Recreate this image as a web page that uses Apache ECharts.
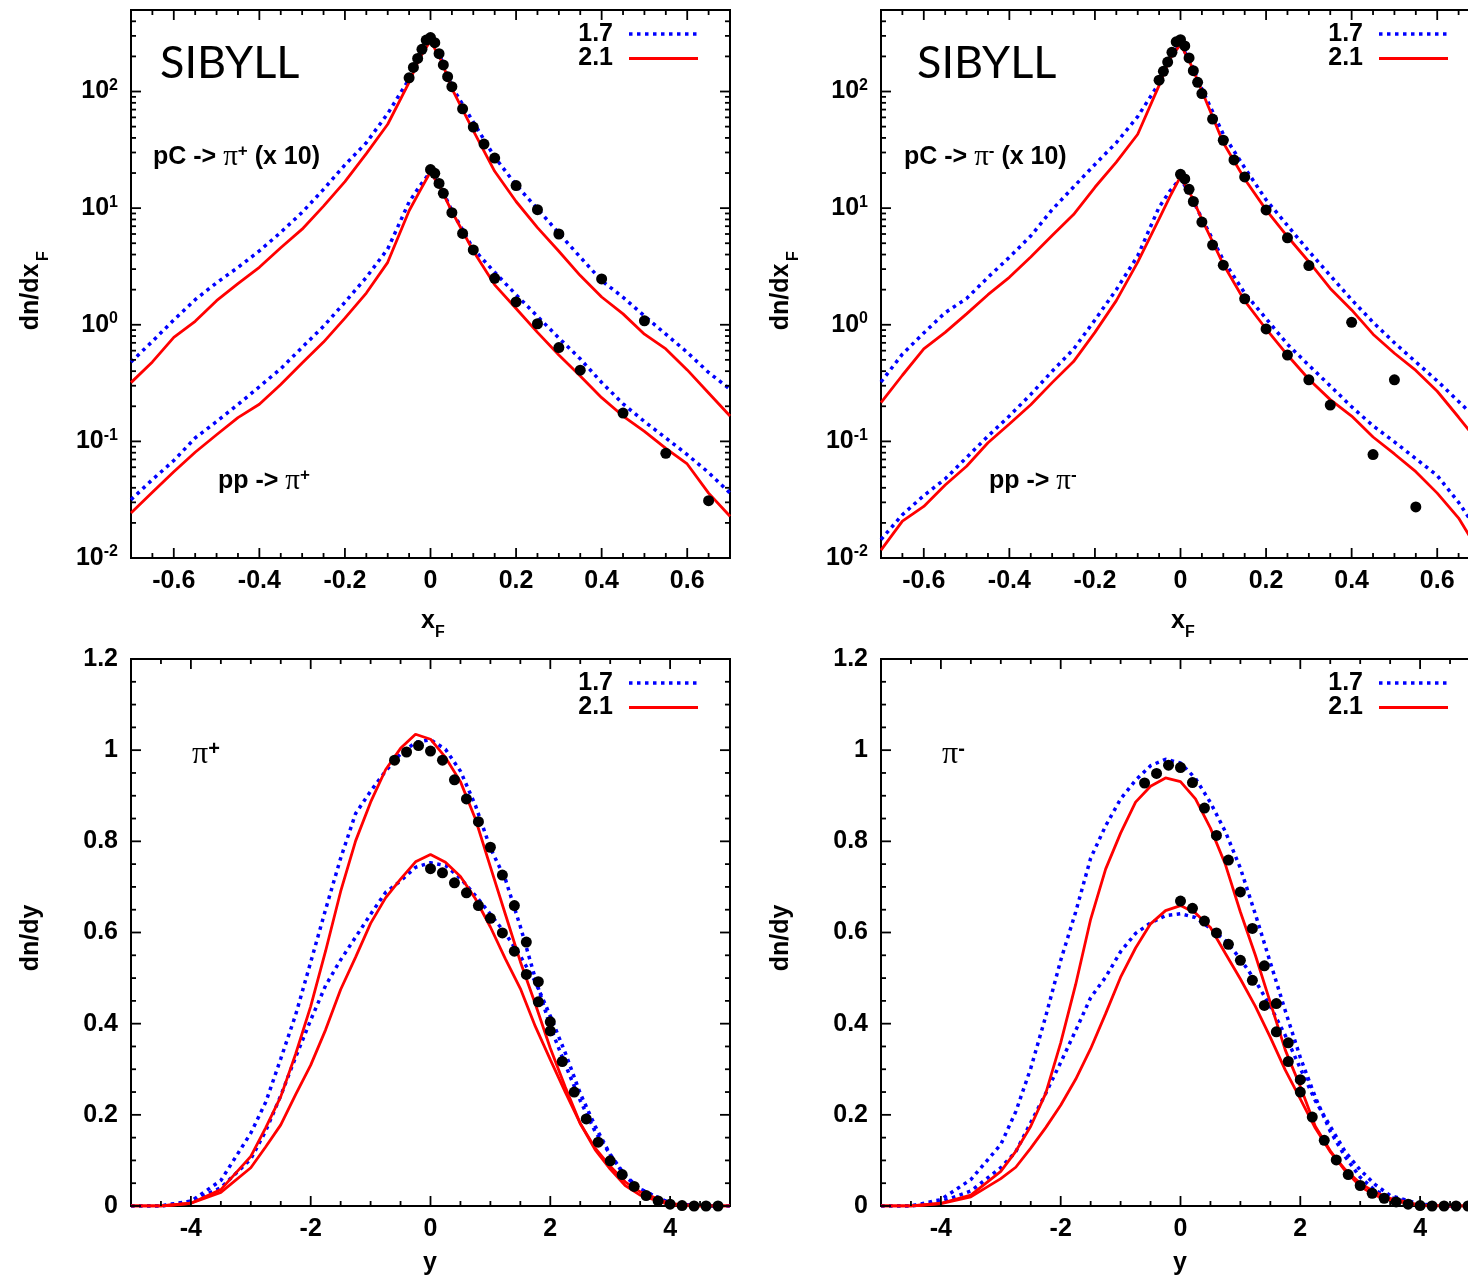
<!DOCTYPE html>
<html>
<head>
<meta charset="utf-8">
<script src="https://cdn.jsdelivr.net/npm/echarts@6/dist/echarts.min.js"></script>
<style>
  html, body { margin: 0; padding: 0; background: #fff; }
  #chart { width: 1468px; height: 1286px; }
</style>
</head>
<body>
<div id="chart"></div>
<script>
// ---- Feynman-x spectra: SIBYLL 1.7 / 2.1 model curves (sampled in x_F) ----
const xfGrid = [-0.7,-0.65,-0.6,-0.55,-0.5,-0.45,-0.4,-0.35,-0.3,-0.25,-0.2,-0.15,-0.1,-0.05,-0.025,0,0.025,0.05,0.1,0.15,0.2,0.25,0.3,0.35,0.4,0.45,0.5,0.55,0.6,0.65,0.7];

// pi+ : pC (x 10) and pp
const piPlusPC17 = [0.48,0.72,1.1,1.64,2.29,3.1,4.3,6.2,9.2,14.5,23.5,36.4,64.7,128,200,278,190,110,54.8,27.4,15.8,9.86,6.1,3.8,2.39,1.72,1.19,0.83,0.58,0.39,0.28];
const piPlusPC21 = [0.319,0.48,0.78,1.07,1.61,2.25,3.11,4.58,6.6,10.4,16.9,29.3,52.4,120,195,272,185,106,46.2,20.7,11.4,6.8,4.27,2.64,1.73,1.24,0.83,0.62,0.41,0.26,0.165];
const piPlusPP17 = [0.0316,0.047,0.0685,0.107,0.148,0.207,0.294,0.42,0.64,0.97,1.56,2.55,4.47,11.3,15.5,20.5,15,9.5,4.47,2.82,1.81,1.18,0.77,0.51,0.32,0.21,0.148,0.107,0.077,0.054,0.036];
const piPlusPP21 = [0.0243,0.0366,0.0548,0.0807,0.114,0.16,0.208,0.308,0.47,0.71,1.14,1.87,3.43,9.5,14,20.5,14.5,9.35,4.29,2.2,1.38,0.86,0.55,0.364,0.237,0.165,0.122,0.087,0.064,0.036,0.0228];

// pi- : pC (x 10) and pp
const piMinusPC17 = [0.323,0.56,0.85,1.27,1.68,2.55,3.79,5.78,9.7,15.2,23.7,36.4,61,118,195,258,172,105,43,22.2,11.8,7.1,4.27,2.64,1.64,1.05,0.70,0.48,0.33,0.22,0.145];
const piMinusPC21 = [0.215,0.369,0.62,0.86,1.24,1.81,2.55,3.81,5.82,8.8,15.1,24.8,43,113,190,255,168,101,36.4,17.8,9.66,5.71,3.47,2.05,1.34,0.83,0.57,0.406,0.269,0.161,0.095];
const piMinusPP17 = [0.0144,0.0235,0.0343,0.0477,0.0727,0.111,0.165,0.253,0.399,0.617,1.1,2.0,3.9,10.2,14,18,12.5,8.15,3.59,1.87,1.13,0.68,0.449,0.299,0.198,0.136,0.099,0.071,0.051,0.03,0.016];
const piMinusPP21 = [0.0117,0.0207,0.0277,0.0423,0.0612,0.0973,0.141,0.206,0.319,0.483,0.86,1.61,3.44,8.1,12.5,18.6,12.8,8.03,3.3,1.6,0.92,0.55,0.341,0.228,0.165,0.109,0.078,0.055,0.036,0.022,0.011];

// Measured x_F points
const xfDataPC = [-0.05,-0.04,-0.03,-0.02,-0.01,0,0.01,0.02,0.03,0.04,0.05,0.075,0.1,0.125,0.15,0.2,0.25,0.3,0.4,0.5];
const piPlusPCData  = [131,161,192,230,276,290,262,211,169,134,110,71,49.6,35.4,26.9,15.6,9.7,6.0,2.47,1.08];
const piMinusPCData = [125,149,179,217,267,278,246,194,151,120,96,58,38.2,25.9,18.5,9.66,5.56,3.22,1.05,0.337];
const xfDataPPPlus  = [0,0.01,0.02,0.03,0.05,0.075,0.1,0.15,0.2,0.25,0.3,0.35,0.45,0.55,0.65];
const piPlusPPData  = [21.4,19.9,16.3,13.4,9.15,6.07,4.38,2.50,1.57,1.02,0.637,0.408,0.175,0.079,0.031];
const xfDataPPMinus = [0,0.01,0.02,0.03,0.05,0.075,0.1,0.15,0.2,0.25,0.3,0.35,0.45,0.55];
const piMinusPPData = [19.5,17.8,14.5,11.4,7.6,4.82,3.24,1.67,0.92,0.55,0.337,0.205,0.077,0.0274];

// ---- Rapidity spectra ----
const yGrid = [-5,-4.5,-4,-3.5,-3,-2.75,-2.5,-2.25,-2,-1.75,-1.5,-1.25,-1,-0.75,-0.5,-0.25,0,0.25,0.5,0.75,1,1.25,1.5,1.75,2,2.25,2.5,2.75,3,3.25,3.5,4,4.5,5];

const piPlusUpper17 = [0,0,0.010,0.056,0.160,0.228,0.323,0.42,0.535,0.651,0.763,0.861,0.910,0.954,0.992,1.017,1.023,1.002,0.954,0.879,0.785,0.717,0.613,0.499,0.393,0.310,0.231,0.163,0.113,0.067,0.037,0.006,0,0];
const piPlusUpper21 = [0,0,0.006,0.036,0.109,0.172,0.240,0.334,0.438,0.560,0.690,0.801,0.886,0.957,1.004,1.035,1.024,0.984,0.931,0.849,0.744,0.640,0.536,0.443,0.346,0.261,0.181,0.123,0.081,0.045,0.024,0.0024,0,0];
const piPlusLower17 = [0,0,0.011,0.040,0.103,0.165,0.242,0.327,0.408,0.484,0.540,0.590,0.640,0.688,0.713,0.743,0.753,0.747,0.719,0.681,0.640,0.598,0.548,0.492,0.417,0.336,0.247,0.175,0.113,0.065,0.037,0.006,0,0];
const piPlusLower21 = [0,0,0.006,0.030,0.084,0.130,0.178,0.245,0.309,0.387,0.475,0.546,0.620,0.676,0.717,0.755,0.771,0.754,0.723,0.674,0.612,0.542,0.477,0.394,0.321,0.250,0.181,0.127,0.087,0.053,0.031,0.005,0,0];

const piMinusUpper17 = [0,0,0.014,0.058,0.135,0.207,0.302,0.416,0.539,0.645,0.763,0.834,0.893,0.934,0.966,0.980,0.972,0.938,0.885,0.821,0.741,0.640,0.534,0.428,0.326,0.239,0.164,0.108,0.063,0.034,0.019,0.002,0,0];
const piMinusUpper21 = [0,0,0.006,0.024,0.076,0.120,0.175,0.247,0.358,0.486,0.629,0.739,0.818,0.886,0.921,0.939,0.931,0.893,0.829,0.749,0.645,0.550,0.446,0.342,0.262,0.175,0.121,0.077,0.043,0.023,0.013,0.001,0,0];
const piMinusLower17 = [0,0,0.009,0.033,0.084,0.119,0.183,0.247,0.315,0.385,0.457,0.502,0.558,0.598,0.621,0.637,0.641,0.633,0.609,0.582,0.542,0.494,0.438,0.374,0.302,0.231,0.175,0.119,0.079,0.047,0.023,0.004,0,0];
const piMinusLower21 = [0,0,0.005,0.020,0.060,0.085,0.127,0.172,0.221,0.278,0.345,0.422,0.502,0.566,0.619,0.648,0.659,0.643,0.611,0.554,0.498,0.438,0.370,0.298,0.235,0.171,0.119,0.080,0.050,0.030,0.017,0.002,0,0];

const yDataFull = [-0.6,-0.4,-0.2,0,0.2,0.4,0.6,0.8,1.0,1.2,1.4,1.6,1.8,2.0,2.2,2.4,2.6,2.8,3.0,3.2,3.4,3.6,3.8,4.0,4.2,4.4,4.6,4.8];
const yDataHalf = [0,0.2,0.4,0.6,0.8,1.0,1.2,1.4,1.6,1.8,2.0];
const piPlusUpperData  = [0.978,0.996,1.010,0.998,0.978,0.935,0.893,0.843,0.787,0.726,0.659,0.579,0.492,0.404,0.317,0.250,0.191,0.140,0.099,0.069,0.043,0.023,0.011,0.004,0.001,0,0,0];
const piPlusLowerData  = [0.740,0.731,0.709,0.687,0.659,0.631,0.599,0.559,0.508,0.448,0.384];
const piMinusUpperData = [0.928,0.949,0.967,0.962,0.929,0.873,0.813,0.759,0.689,0.609,0.527,0.444,0.358,0.277,0.195,0.144,0.101,0.069,0.045,0.028,0.017,0.009,0.004,0.001,0,0,0,0];
const piMinusLowerData = [0.669,0.653,0.625,0.599,0.574,0.539,0.495,0.440,0.382,0.317,0.250];

// Tick labels
const xfTickValues = [-0.6,-0.4,-0.2,0,0.2,0.4,0.6];
const rapTickValues = [-4,-2,0,2,4];
const logTickValues = [0.01,0.1,1,10,100];
const linTickValues = [0,0.2,0.4,0.6,0.8,1,1.2];

// ---------------------------------------------------------------------------
const FONT = '"Liberation Sans", Arial, Helvetica, sans-serif';
const SERIF = '"Liberation Serif", "DejaVu Serif", serif';
const BLUE = '#0000ff', RED = '#ff0000';

const pairs = (xs, ys) => xs.map((x, i) => [x, ys[i]]);
const near = (a, b) => Math.abs(a - b) < 1e-6;
function range(a, b, step) {
  const out = [];
  const n = Math.round((b - a) / step);
  for (let i = 0; i <= n; i++) out.push(+(a + i * step).toFixed(6));
  return out;
}

const panels = [
  { left: 131, top: 10,  width: 599, height: 548 },
  { left: 881, top: 10,  width: 599, height: 548 },
  { left: 131, top: 659, width: 599, height: 547 },
  { left: 881, top: 659, width: 599, height: 547 }
];
const X_RANGE = [[-0.7, 0.7], [-0.7, 0.7], [-5, 5], [-5, 5]];
const Y_RANGE = [[0.01, 500], [0.01, 500], [0, 1.2], [0, 1.2]];

// minor tick positions
const xfMinor = range(-0.65, 0.65, 0.05).filter(v => !xfTickValues.some(m => near(m, v)));
const rapMinor = range(-4.5, 4.5, 0.5).filter(v => !rapTickValues.some(m => near(m, v)));
const logMinor = [];
for (let e = -2; e <= 2; e++) for (let k = 2; k <= 9; k++) { const v = k * Math.pow(10, e); if (v < 500) logMinor.push(+v.toPrecision(3)); }
const linMinor = range(0.05, 1.15, 0.05).filter(v => !linTickValues.some(m => near(m, v)));

const labelBase = { fontFamily: FONT, fontWeight: 'bold', fontSize: 25, color: '#000' };
const hiddenLine = () => ({ show: false, onZero: false });

const grid = panels.map(p => Object.assign({
  show: true, borderColor: '#000', borderWidth: 2, backgroundColor: 'transparent',
  outerBoundsMode: 'none', containLabel: false
}, p));

const xAxis = panels.map((p, g) => {
  const top = g < 2;
  const vals = top ? xfTickValues : rapTickValues;
  return {
    gridIndex: g, type: 'value', position: 'bottom',
    min: X_RANGE[g][0], max: X_RANGE[g][1],
    axisLine: hiddenLine(), axisTick: { show: false }, splitLine: { show: false },
    axisLabel: Object.assign({}, labelBase, { margin: 11, customValues: vals,
      formatter: v => vals.some(m => near(m, v)) ? String(+v.toFixed(6)) : '' })
  };
});

const yAxis = panels.map((p, g) => {
  if (g < 2) {
    return {
      gridIndex: g, type: 'log', logBase: 10, min: Y_RANGE[g][0], max: Y_RANGE[g][1], position: 'left',
      axisLine: hiddenLine(), axisTick: { show: false }, splitLine: { show: false },
      axisLabel: {
        margin: 13, customValues: logTickValues,
        formatter: v => { const e = Math.log10(v), r = Math.round(e); return Math.abs(e - r) > 1e-6 ? '' : '{b|10}{s|' + r + '}'; },
        rich: {
          b: { fontFamily: FONT, fontWeight: 'bold', fontSize: 25, lineHeight: 28, color: '#000' },
          s: { fontFamily: FONT, fontWeight: 'bold', fontSize: 16, lineHeight: 14, verticalAlign: 'top', color: '#000' }
        }
      }
    };
  }
  return {
    gridIndex: g, type: 'value', min: Y_RANGE[g][0], max: Y_RANGE[g][1], interval: 0.2, position: 'left',
    axisLine: hiddenLine(), axisTick: { show: false }, splitLine: { show: false },
    axisLabel: Object.assign({}, labelBase, { margin: 13, customValues: linTickValues,
      formatter: v => String(+v.toFixed(6)) })
  };
});

function curve(g, name, xs, ys, color, dotted) {
  return {
    type: 'line', name, xAxisIndex: g, yAxisIndex: g, data: pairs(xs, ys),
    symbol: 'none', showSymbol: false, clip: true, animation: false, z: dotted ? 3 : 4,
    lineStyle: dotted ? { color, width: 3.5, type: [3.5, 4.5], cap: 'butt', opacity: 1 } : { color, width: 2.8, opacity: 1 }
  };
}
function points(g, xs, ys) {
  return {
    type: 'scatter', xAxisIndex: g, yAxisIndex: g, data: pairs(xs, ys),
    symbol: 'circle', symbolSize: 11, itemStyle: { color: '#000', opacity: 1 }, z: 5, animation: false
  };
}

const series = [
  curve(0, '1.7', xfGrid, piPlusPC17, BLUE, true),
  curve(0, '1.7', xfGrid, piPlusPP17, BLUE, true),
  curve(0, '2.1', xfGrid, piPlusPC21, RED, false),
  curve(0, '2.1', xfGrid, piPlusPP21, RED, false),
  points(0, xfDataPC, piPlusPCData),
  points(0, xfDataPPPlus, piPlusPPData),

  curve(1, '1.7', xfGrid, piMinusPC17, BLUE, true),
  curve(1, '1.7', xfGrid, piMinusPP17, BLUE, true),
  curve(1, '2.1', xfGrid, piMinusPC21, RED, false),
  curve(1, '2.1', xfGrid, piMinusPP21, RED, false),
  points(1, xfDataPC, piMinusPCData),
  points(1, xfDataPPMinus, piMinusPPData),

  curve(2, '1.7', yGrid, piPlusUpper17, BLUE, true),
  curve(2, '1.7', yGrid, piPlusLower17, BLUE, true),
  curve(2, '2.1', yGrid, piPlusUpper21, RED, false),
  curve(2, '2.1', yGrid, piPlusLower21, RED, false),
  points(2, yDataFull, piPlusUpperData),
  points(2, yDataHalf, piPlusLowerData),

  curve(3, '1.7', yGrid, piMinusUpper17, BLUE, true),
  curve(3, '1.7', yGrid, piMinusLower17, BLUE, true),
  curve(3, '2.1', yGrid, piMinusUpper21, RED, false),
  curve(3, '2.1', yGrid, piMinusLower21, RED, false),
  points(3, yDataFull, piMinusUpperData),
  points(3, yDataHalf, piMinusLowerData)
];

// ---- texts, key and axis titles ----
function txt(x, y, text, font, align, extra) {
  return Object.assign({
    type: 'text', x, y, silent: true, z: 40,
    style: { text, font, fill: '#000', align: align || 'left', textAlign: align || 'left', verticalAlign: 'middle', textVerticalAlign: 'middle' }
  }, extra || {});
}
function richTxt(x, y, text, rich) {
  return {
    type: 'text', x, y, silent: true, z: 40,
    style: { text, rich, fill: '#000', align: 'left', textAlign: 'left', verticalAlign: 'middle', textVerticalAlign: 'middle' }
  };
}
const reactionRich = {
  a: { fontFamily: FONT, fontWeight: 'bold', fontSize: 25, lineHeight: 28, fill: '#000' },
  p: { fontFamily: SERIF, fontSize: 29, lineHeight: 28, fill: '#000' },
  s: { fontFamily: FONT, fontWeight: 'bold', fontSize: 17, lineHeight: 14, verticalAlign: 'top', fill: '#000' }
};
const pionRich = {
  p: { fontFamily: SERIF, fontSize: 32, lineHeight: 32, fill: '#000' },
  s: { fontFamily: FONT, fontWeight: 'bold', fontSize: 20, lineHeight: 16, verticalAlign: 'top', fill: '#000' }
};

const graphic = [];
panels.forEach(p => {
  const tx = p.left + 482, lx1 = p.left + 498;
  graphic.push(txt(tx, p.top + 24, '1.7', 'bold 25px ' + FONT, 'right'));
  graphic.push(txt(tx, p.top + 48.5, '2.1', 'bold 25px ' + FONT, 'right'));
  graphic.push({ type: 'line', silent: true, z: 40, shape: { x1: lx1, y1: p.top + 24, x2: lx1 + 68, y2: p.top + 24 },
    style: { stroke: BLUE, lineWidth: 3.5, lineDash: [3.5, 4.5] } });
  graphic.push({ type: 'line', silent: true, z: 40, shape: { x1: lx1, y1: p.top + 48.5, x2: lx1 + 69, y2: p.top + 48.5 },
    style: { stroke: RED, lineWidth: 2.8 } });
});

graphic.push(txt(160, 63, 'SIBYLL', '45px Lato, "Liberation Sans", sans-serif'));
graphic.push(txt(917, 63, 'SIBYLL', '45px Lato, "Liberation Sans", sans-serif'));
graphic.push(richTxt(153, 157, '{a|pC -> }{p|π}{s|+}{a| (x 10)}', reactionRich));
graphic.push(richTxt(218, 481, '{a|pp -> }{p|π}{s|+}', reactionRich));
graphic.push(richTxt(904, 157, '{a|pC -> }{p|π}{s|-}{a| (x 10)}', reactionRich));
graphic.push(richTxt(989, 481, '{a|pp -> }{p|π}{s|-}', reactionRich));
graphic.push(richTxt(192, 755, '{p|π}{s|+}', pionRich));
graphic.push(richTxt(942, 755, '{p|π}{s|-}', pionRich));

// axis titles
[0, 750].forEach(dx => {
  graphic.push(txt(31 + dx, 297, 'dn/dx', 'bold 25px ' + FONT, 'center', { rotation: Math.PI / 2 }));
  graphic.push(txt(44 + dx, 256, 'F', 'bold 16px ' + FONT, 'center', { rotation: Math.PI / 2 }));
  graphic.push(txt(31 + dx, 938, 'dn/dy', 'bold 25px ' + FONT, 'center', { rotation: Math.PI / 2 }));
  graphic.push(txt(428 + dx, 621, 'x', 'bold 25px ' + FONT, 'center'));
  graphic.push(txt(440 + dx, 633, 'F', 'bold 16px ' + FONT, 'center'));
  graphic.push(txt(430 + dx, 1263, 'y', 'bold 25px ' + FONT, 'center'));
});

// Inward tick marks on all four sides of each frame: each value is mapped onto
// the panel with the same linear (x, dn/dy) or logarithmic (dn/dx_F) rule as its axis.
function xTickPixel(g, v) {
  const p = panels[g], [a, b] = X_RANGE[g];
  return p.left + (v - a) / (b - a) * p.width;
}
function yTickPixel(g, v) {
  const p = panels[g], [a, b] = Y_RANGE[g];
  const t = g < 2 ? (Math.log10(v) - Math.log10(a)) / (Math.log10(b) - Math.log10(a)) : (v - a) / (b - a);
  return p.top + p.height * (1 - t);
}
function tickLine(x1, y1, x2, y2) {
  return { type: 'line', silent: true, z: 100, shape: { x1, y1, x2, y2 }, style: { stroke: '#000000', lineWidth: 1.8 } };
}
panels.forEach((p, g) => {
  const top = g < 2;
  const bottom = p.top + p.height, right = p.left + p.width;
  const xTicks = [[top ? xfTickValues : rapTickValues, 10], [top ? xfMinor : rapMinor, 5]];
  const yTicks = [[top ? logTickValues : linTickValues, 10], [top ? logMinor : linMinor, 5]];
  xTicks.forEach(([vals, len]) => vals.forEach(v => {
    const px = xTickPixel(g, v);
    graphic.push(tickLine(px, bottom, px, bottom - len));
    graphic.push(tickLine(px, p.top, px, p.top + len));
  }));
  yTicks.forEach(([vals, len]) => vals.forEach(v => {
    const py = yTickPixel(g, v);
    graphic.push(tickLine(p.left, py, p.left + len, py));
    graphic.push(tickLine(right, py, right - len, py));
  }));
});

const chart = echarts.init(document.getElementById('chart'));
chart.setOption({
  backgroundColor: '#fff',
  animation: false,
  grid, xAxis, yAxis, series, graphic
});
</script>
</body>
</html>
